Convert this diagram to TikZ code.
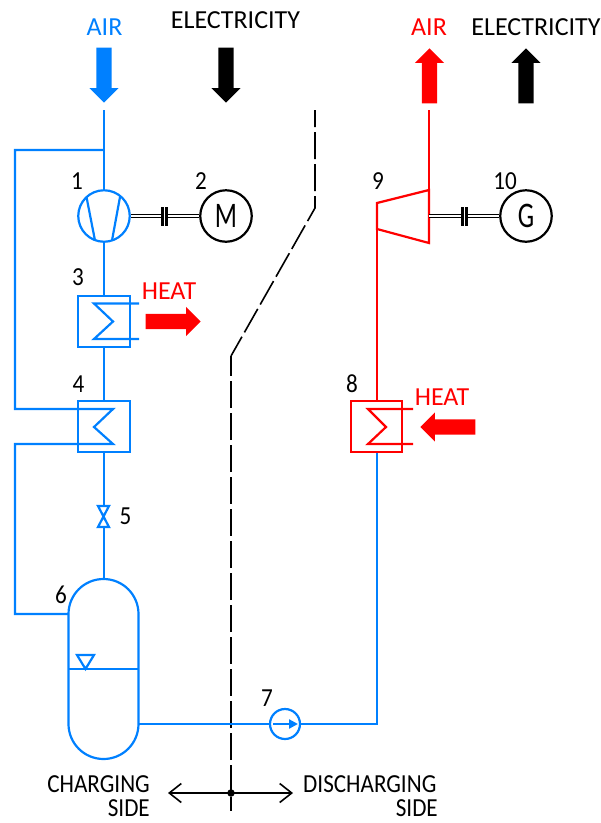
\documentclass[tikz,border=0pt]{standalone}
\usepackage{fontspec}
\setmainfont{Carlito}
\newfontfamily\narrowfont[FakeStretch=0.89]{Carlito}
\newfontfamily\machinefont[FakeStretch=0.72]{Carlito}
\usepackage{xcolor}
\usepackage{tikz}
\usetikzlibrary{shapes, arrows.meta, positioning}
\definecolor{airblue}{RGB}{0, 128, 255}
\definecolor{hotred}{RGB}{255, 0, 0}
\newcommand{\shaftstrut}{\rule{0pt}{15pt}}
\begin{document}
\begin{tikzpicture}[
        x=1pt, y=-1pt,
        >=Stealth,
        labeltext/.style={inner sep=0pt, font=\fontsize{26}{28}\selectfont},
        sidetext/.style={inner sep=0pt, font=\narrowfont\fontsize{26}{28}\selectfont},
        numtext/.style={inner sep=0pt, font=\narrowfont\fontsize{26}{28}\selectfont},
        blueline/.style={draw=airblue, line width=2.2pt},
        redline/.style={draw=hotred, line width=2.2pt},
        sepline/.style={black, line width=1.6pt, dash pattern=on 27pt off 5pt},
        bigarrow/.style={single arrow, draw=none, inner sep=0pt, minimum width=29pt, minimum height=55pt,
            single arrow head extend=7pt, single arrow head indent=0pt, anchor=tip},
        hxbox/.style={rectangle, draw, line width=2.2pt, minimum size=51.5pt, inner sep=0pt},
        machine/.style={circle, draw=black, line width=2.2pt, minimum size=51.5pt, inner sep=0pt, font=\machinefont\fontsize{36}{38}\selectfont},
        shaftouter/.style={black, line width=4.4pt},
        shaftinner/.style={white, line width=1.2pt},
        couplebar/.style={rectangle, fill=black, minimum width=2.4pt, minimum height=19pt, inner sep=0pt}
    ]
    \useasboundingbox (0,0) rectangle (601,823);

    % Top labels
    \node[labeltext, text=airblue] (airleft) at (104.5,27) {AIR};
    \node[labeltext] (elecleft) at (235.5,20) {ELECTRICITY};
    \node[labeltext, text=hotred] (airright) at (429,27) {AIR};
    \node[labeltext] (elecright) at (536,27) {ELECTRICITY};

    % Big arrows
    \node[bigarrow, fill=airblue, rotate=-90] (airin) at (104,103) {\shaftstrut};
    \node[bigarrow, fill=black, rotate=-90] (powerin) at (226,103) {\shaftstrut};
    \node[bigarrow, fill=hotred, rotate=90] (airout) at (429.5,48) {\shaftstrut};
    \node[bigarrow, fill=black, rotate=90] (powerout) at (526,48) {\shaftstrut};
    \node[bigarrow, fill=hotred] (heatout) at (201,321.5) {\shaftstrut};
    \node[bigarrow, fill=hotred, rotate=180] (heatin) at (420,427) {\shaftstrut};
    \node[labeltext, text=hotred] (heatoutlabel) at (169,291) {HEAT};
    \node[labeltext, text=hotred] (heatinlabel) at (442,397) {HEAT};

    % Separation line
    \coordinate (septop) at (315,110);
    \coordinate (sepa) at (315,208);
    \coordinate (sepb) at (231,356);
    \coordinate (sepend) at (231,811);
    \draw[sepline, dash phase=10pt] (septop) -- (sepa) -- (sepb);
    \draw[sepline, dash phase=7pt] (sepb) -- (sepend);

    % Charging side
    \node[machine, draw=airblue] (comp) at (104,216) {};
    \coordinate (compa) at (86.5,197);
    \coordinate (compb) at (95,240.5);
    \coordinate (compc) at (120,197);
    \coordinate (compd) at (112,240.5);
    \draw[blueline] (compa) -- (compb) (compc) -- (compd);
    \node[machine] (motor) at (226,216) {M};

    \node[hxbox, draw=airblue] (hx3) at (104,321.5) {};
    \node[hxbox, draw=airblue] (hx4) at (104,426.5) {};
    \coordinate (out3a) at (139,303.5);
    \coordinate (z3a) at (94,303.5);
    \coordinate (z3b) at (113,321.5);
    \coordinate (z3c) at (94,339);
    \coordinate (out3b) at (139,339);
    \draw[blueline] (out3a) -- (z3a) -- (z3b) -- (z3c) -- (out3b);

    \coordinate (airstart) at (104,110);
    \coordinate (split) at (104,150);
    \coordinate (bypassa) at (15,150);
    \coordinate (bypassb) at (15,409);
    \coordinate (z4a) at (113,409);
    \coordinate (z4b) at (94,427);
    \coordinate (z4c) at (113,444);
    \coordinate (bypassc) at (15,444);
    \coordinate (bypassd) at (15,614);
    \coordinate (tankin) at (68,614);
    \draw[blueline] (split) -- (bypassa) -- (bypassb) -- (z4a) -- (z4b) -- (z4c) -- (bypassc) -- (bypassd) -- (tankin);

    % Valve and tank
    \coordinate (vala) at (98,506);
    \coordinate (valb) at (109,506);
    \coordinate (valc) at (98,527);
    \coordinate (vald) at (109,527);
    \draw[blueline, line join=miter] (vala) -- (valb) -- (valc) -- (vald) -- cycle;
    \coordinate (valtop) at (104,506);
    \coordinate (valbot) at (104,527);
    \node[rectangle, draw=airblue, line width=2.2pt, rounded corners=35pt, minimum width=70pt, minimum height=180pt, inner sep=0pt] (tank) at (103.5,669) {};
    \coordinate (levela) at (68.5,669);
    \coordinate (levelb) at (138.5,669);
    \draw[blueline] (levela) -- (levelb);
    \coordinate (tria) at (77,655);
    \coordinate (trib) at (94,655);
    \coordinate (tric) at (85.5,669);
    \draw[blueline] (tria) -- (trib) -- (tric) -- cycle;

    % Pipes, charging side
    \draw[blueline] (airstart) -- (comp);
    \draw[blueline] (comp) -- (hx3);
    \draw[blueline] (hx3) -- (hx4);
    \draw[blueline] (hx4) -- (valtop);
    \draw[blueline] (valbot) -- (tank.north -| valbot);

    % Pump
    \node[circle, draw=airblue, line width=2.2pt, minimum size=30pt, inner sep=0pt] (pump) at (285,724) {};
    \coordinate (pumpa) at (273,724);
    \coordinate (pumpb) at (298,724);
    \draw[blueline, -{Stealth[length=9pt,width=9pt,inset=0pt]}] (pumpa) -- (pumpb);
    \coordinate (tankout) at (138.5,724);
    \coordinate (pipecorner) at (377,724);
    \coordinate (hx8in) at (377,453);
    \draw[blueline] (tankout) -- (pump);
    \draw[blueline] (pump) -- (pipecorner) -- (hx8in);

    % Discharging side
    \node[hxbox, draw=hotred] (hx8) at (376.5,426.5) {};
    \coordinate (in8a) at (413,409);
    \coordinate (z8a) at (368,409);
    \coordinate (z8b) at (386,427);
    \coordinate (z8c) at (368,444);
    \coordinate (in8b) at (413,444);
    \draw[redline] (in8a) -- (z8a) -- (z8b) -- (z8c) -- (in8b);
    \coordinate (turba) at (377,203);
    \coordinate (turbb) at (429,190);
    \coordinate (turbc) at (429,243);
    \coordinate (turbd) at (377,229);
    \coordinate (turbout) at (429,110);
    \coordinate (hx8out) at (377,400);
    \draw[redline, line join=miter] (turba) -- (turbb) -- (turbc) -- (turbd) -- cycle;
    \draw[redline] (hx8out) -- (turbd);
    \draw[redline] (turbb) -- (turbout);
    \node[machine] (gen) at (526,216) {G};
    \coordinate (turbshaft) at (429,216);

    % Shafts and couplings
    \foreach \s/\e in {comp/motor,turbshaft/gen} {
        \draw[shaftouter] (\s) -- (\e);
        \draw[shaftinner] (\s) -- (\e);
    }
    \foreach \x in {164,464} {
        \node[rectangle, fill=white, minimum width=3pt, minimum height=10pt, inner sep=0pt] (gap\x) at (\x+0.5,216) {};
        \node[couplebar] (bara\x) at (\x-1.5,216) {};
        \node[couplebar] (barb\x) at (\x+2.5,216) {};
    }

    % Numbers
    \foreach \t/\x/\y in {1/77/181,2/201/181,3/78/277,4/78.5/384,5/125.5/516,6/61/595,7/267/698,8/352/384,9/378/181,10/505/181} {
        \node[numtext] (num\t) at (\x,\y) {\t};
    }

    % Sides
    \coordinate (sidea) at (168,793);
    \coordinate (sideb) at (293,793);
    \draw[{Straight Barb[length=12pt,width=19pt]}-{Straight Barb[length=12pt,width=19pt]}, line width=1.6pt] (sidea) -- (sideb);
    \node[circle, fill=black, minimum size=7.5pt, inner sep=0pt] (sidedot) at (231,793) {};
    \node[sidetext, anchor=east] (chargelabel) at (150,784) {CHARGING};
    \node[sidetext, anchor=east] (chargeside) at (150,808.5) {SIDE};
    \node[sidetext, anchor=west] (dischargelabel) at (303,784) {DISCHARGING};
    \node[sidetext, anchor=east] (dischargeside) at (438,808.5) {SIDE};
\end{tikzpicture}
\end{document}
